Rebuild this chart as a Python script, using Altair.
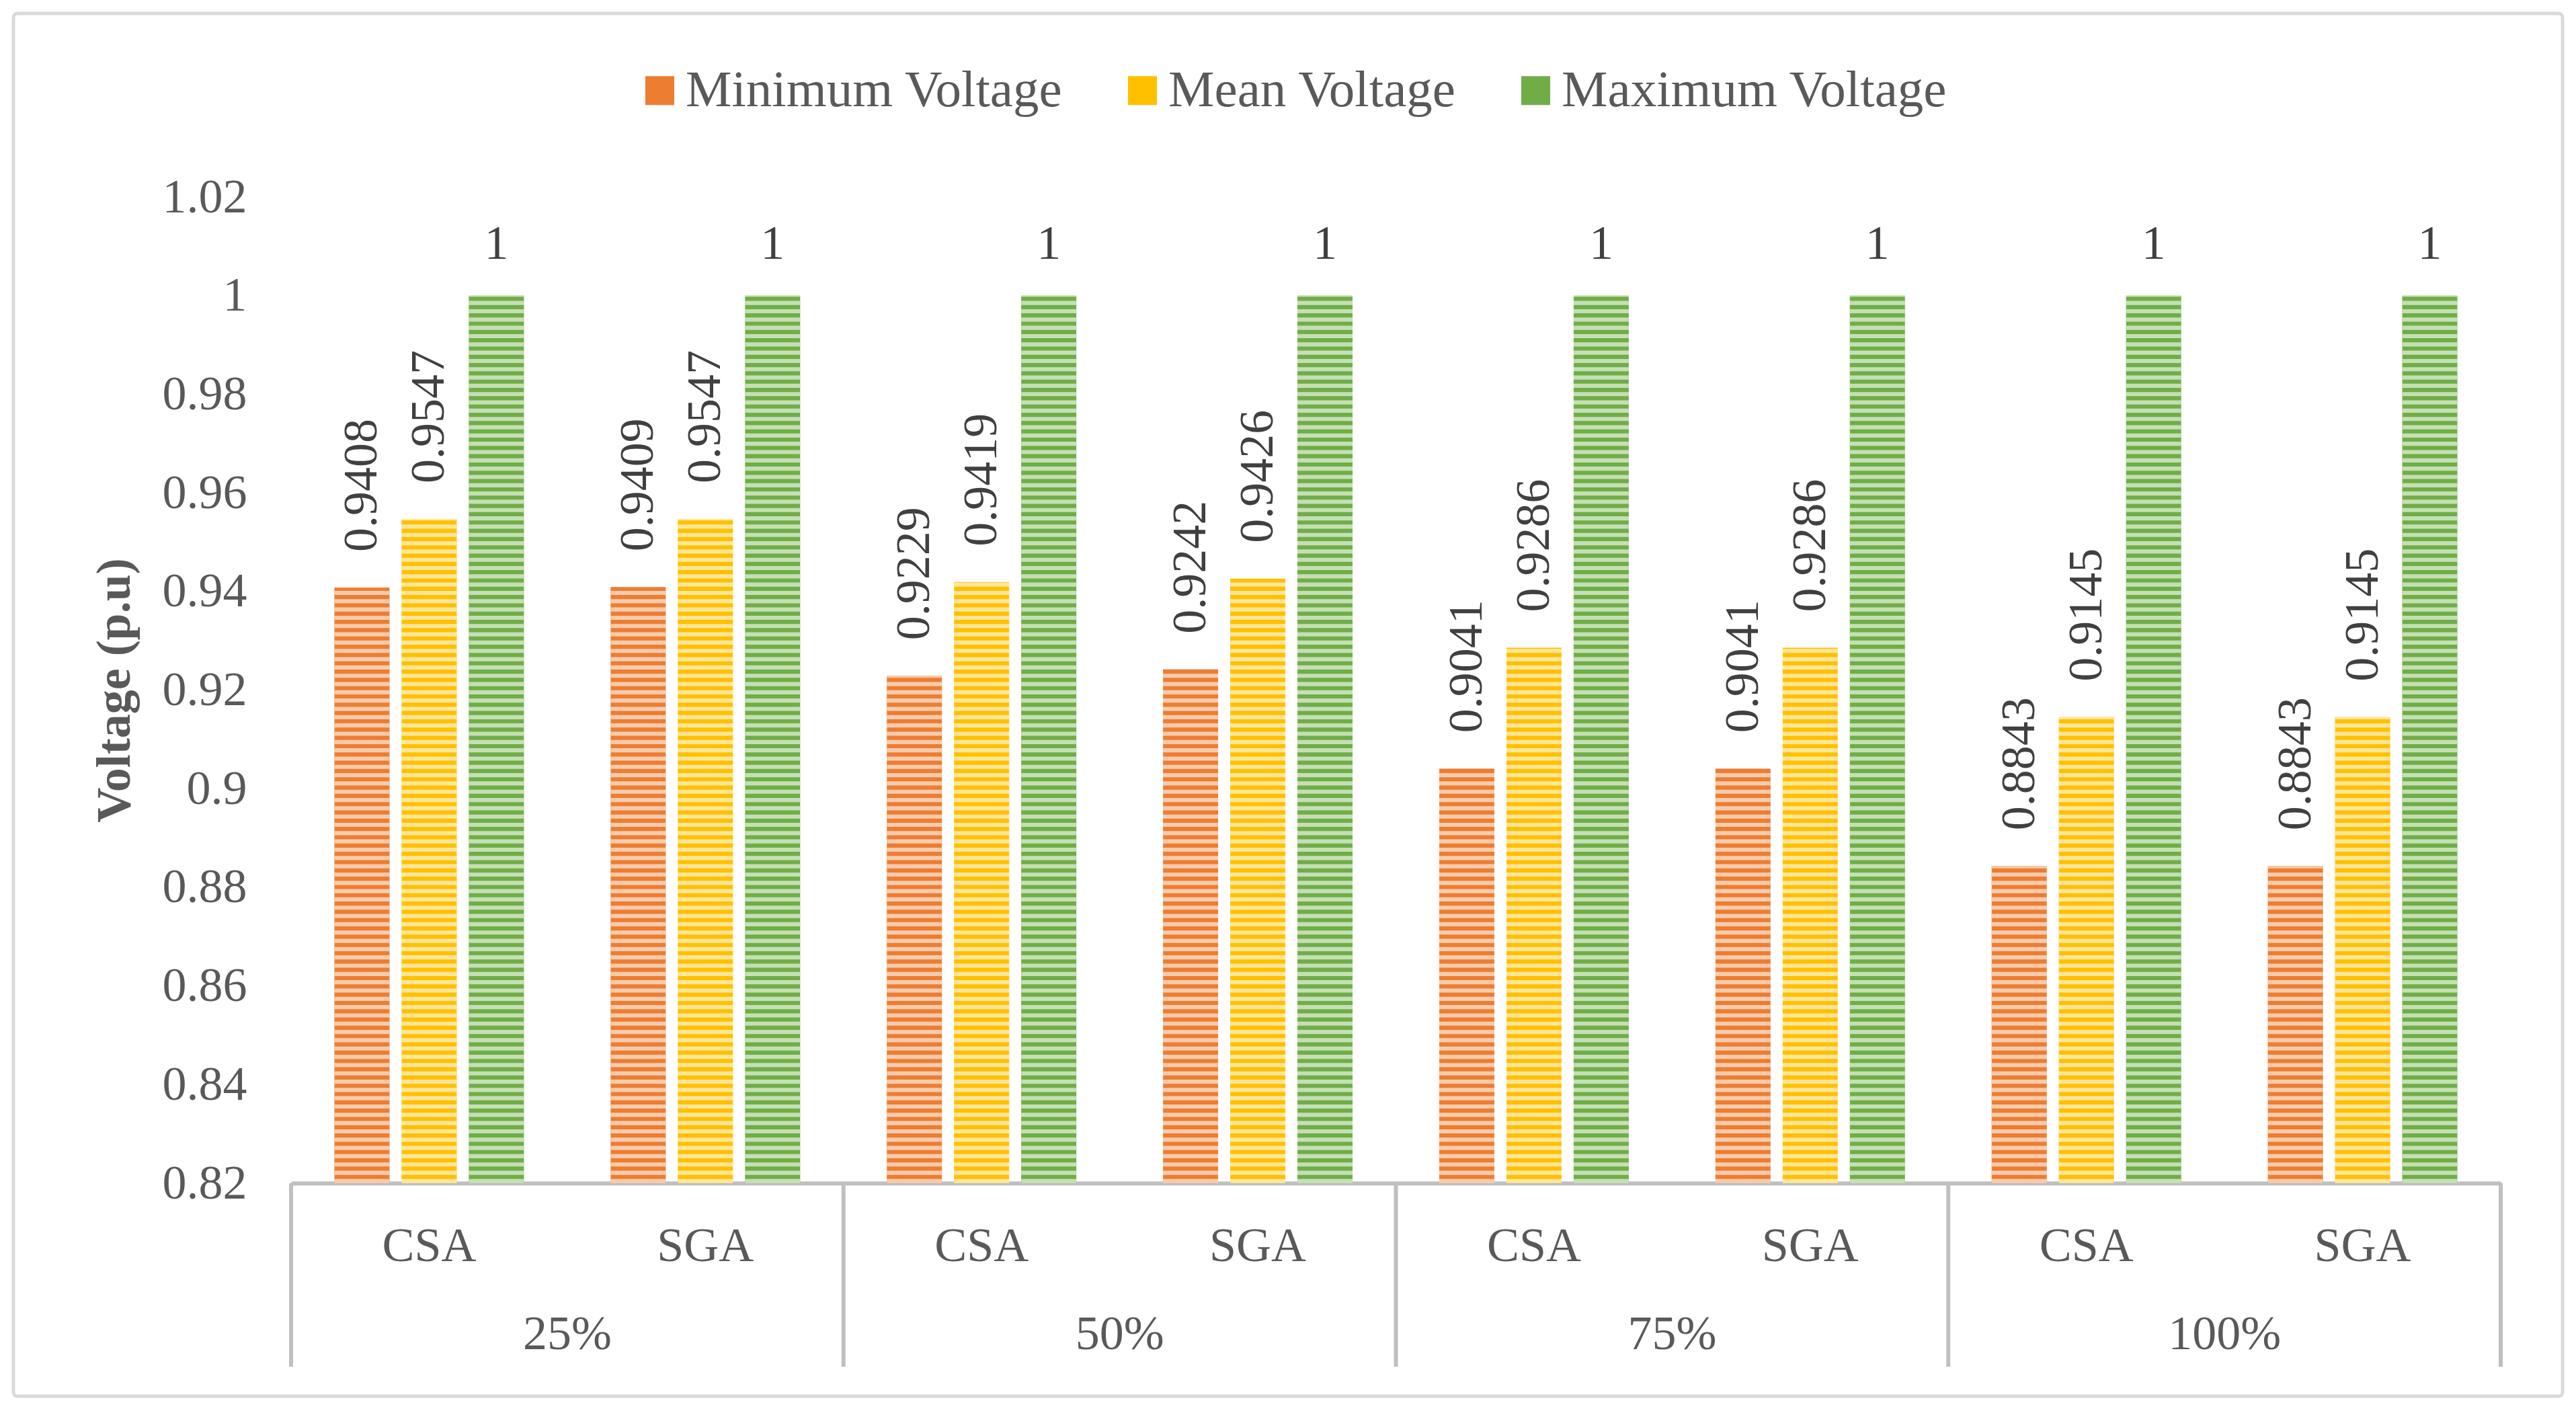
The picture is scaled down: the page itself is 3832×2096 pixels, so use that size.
import pandas as pd
import altair as alt

# Values
loads = ["25%", "50%", "75%", "100%"]
algorithms = ["CSA", "SGA"]
metrics = ["Minimum Voltage", "Mean Voltage", "Maximum Voltage"]
min_voltage = [0.9408, 0.9409, 0.9229, 0.9242, 0.9041, 0.9041, 0.8843, 0.8843]
mean_voltage = [0.9547, 0.9547, 0.9419, 0.9426, 0.9286, 0.9286, 0.9145, 0.9145]
max_voltage = [1, 1, 1, 1, 1, 1, 1, 1]
y_ticks = [0.82, 0.84, 0.86, 0.88, 0.9, 0.92, 0.94, 0.96, 0.98, 1.0, 1.02]

# Excel-like colours (solid stripe + light stripe)
dark_colors = ["#ED7D31", "#FFC000", "#70AD47"]
light_colors = ["#F8CBAD", "#FFE699", "#C5E0B4"]

FONT = "Liberation Serif"
W, H = 3287, 1467

keys = [f"{l} {a}" for l in loads for a in algorithms]
rows = []
for i, key in enumerate(keys):
    for metric, series in zip(metrics, [min_voltage, mean_voltage, max_voltage]):
        rows.append({"key": key, "metric": metric, "value": series[i]})
df = pd.DataFrame(rows)

groups = pd.DataFrame({"key": [f"{l} SGA" for l in loads], "load": loads})
seps = pd.DataFrame({"key": [f"{l} CSA" for l in loads]})
last_sep = pd.DataFrame({"key": [keys[-1]]})

x_axis = alt.Axis(
    title=None, labelExpr="split(datum.label, ' ')[1]", labelAngle=0,
    labelFont=FONT, labelFontSize=72, labelColor="#595959", labelLimit=1000,
    labelBaseline="middle", labelPadding=93, ticks=False,
    domainColor="#BFBFBF", domainWidth=6,
)
x_scale = alt.Scale(domain=keys, paddingInner=0, paddingOuter=0)
x_enc = alt.X("key:N", sort=keys, scale=x_scale, axis=x_axis)
xo_enc = alt.XOffset("metric:N", sort=metrics,
                     scale=alt.Scale(domain=metrics, paddingInner=0.18, paddingOuter=0.645))
y_scale = alt.Scale(domain=[0.82, 1.02], zero=False, nice=False)
y_axis = alt.Axis(
    values=y_ticks, format=".2~f", grid=False, domain=False, ticks=False,
    labelFont=FONT, labelFontSize=72, labelColor="#595959", labelPadding=66,
    title="Voltage (p.u)", titleFont=FONT, titleFontSize=72, titleFontWeight="bold",
    titleColor="#595959", titlePadding=34,
)

base = alt.Chart(df)

frame = alt.Chart(pd.DataFrame({"f": [0]})).mark_rect(
    filled=False, stroke="#D9D9D9", strokeWidth=5, cornerRadius=6
).encode(x=alt.value(-413), x2=alt.value(3379), y=alt.value(-273), y2=alt.value(1784))

bars = base.mark_bar().encode(
    x=x_enc, xOffset=xo_enc,
    y=alt.Y("value:Q", scale=y_scale, axis=y_axis),
    y2=alt.datum(0.82),
    color=alt.Color("metric:N", sort=metrics,
                    scale=alt.Scale(domain=metrics, range=dark_colors),
                    legend=alt.Legend(
                        title=None, orient="none", legendX=510, legendY=-197,
                        direction="horizontal", columns=3, symbolType="square",
                        symbolSize=1849, symbolStrokeWidth=0, labelOffset=0,
                        columnPadding=79, labelFont=FONT, labelFontSize=77,
                        labelColor="#595959", labelLimit=1000, padding=0,
                    )),
)

# light horizontal stripes on top of every bar
stripes = base.transform_calculate(
    s="sequence(0.82, datum.value, 0.00168)"
).transform_flatten(["s"]).transform_calculate(
    s2="min(datum.s + 0.00084, datum.value)"
).mark_rect().encode(
    x=x_enc, xOffset=xo_enc,
    y=alt.Y("s:Q", scale=y_scale, axis=y_axis), y2="s2:Q",
    fill=alt.Fill("metric:N", scale=alt.Scale(domain=metrics, range=light_colors), legend=None),
)

rot_labels = base.transform_filter(
    "datum.metric != 'Maximum Voltage'"
).mark_text(
    angle=270, align="left", baseline="middle", dx=53,
    font=FONT, fontSize=72, color="#404040",
).encode(
    x=x_enc, xOffset=xo_enc,
    y=alt.Y("value:Q", scale=y_scale, axis=y_axis),
    text=alt.Text("value:Q", format=".4~f"),
)

max_labels = base.transform_filter(
    "datum.metric == 'Maximum Voltage'"
).mark_text(
    align="center", baseline="alphabetic", dy=-55,
    font=FONT, fontSize=72, color="#404040",
).encode(
    x=x_enc, xOffset=xo_enc,
    y=alt.Y("value:Q", scale=y_scale, axis=y_axis),
    text=alt.Text("value:Q", format=".4~f"),
)

group_labels = alt.Chart(groups).mark_text(
    align="center", baseline="middle", font=FONT, fontSize=72, color="#595959",
).encode(
    x=alt.X("key:N", bandPosition=0, sort=keys, scale=x_scale, axis=x_axis),
    y=alt.value(H + 225),
    text="load:N",
)

sep_rules = alt.Chart(seps).mark_rule(color="#BFBFBF", strokeWidth=6).encode(
    x=alt.X("key:N", bandPosition=0, sort=keys, scale=x_scale, axis=x_axis),
    y=alt.value(H), y2=alt.value(H + 273),
)
end_rule = alt.Chart(last_sep).mark_rule(color="#BFBFBF", strokeWidth=6).encode(
    x=alt.X("key:N", bandPosition=1, sort=keys, scale=x_scale, axis=x_axis),
    y=alt.value(H), y2=alt.value(H + 273),
)

chart = alt.layer(
    frame, bars, stripes, rot_labels, max_labels, group_labels, sep_rules, end_rule
).resolve_scale(
    color="independent"
).properties(
    width=W, height=H, padding=9, background="white"
).configure_view(strokeWidth=0)

chart.save("out.html", embed_options={"renderer": "svg", "actions": False})
